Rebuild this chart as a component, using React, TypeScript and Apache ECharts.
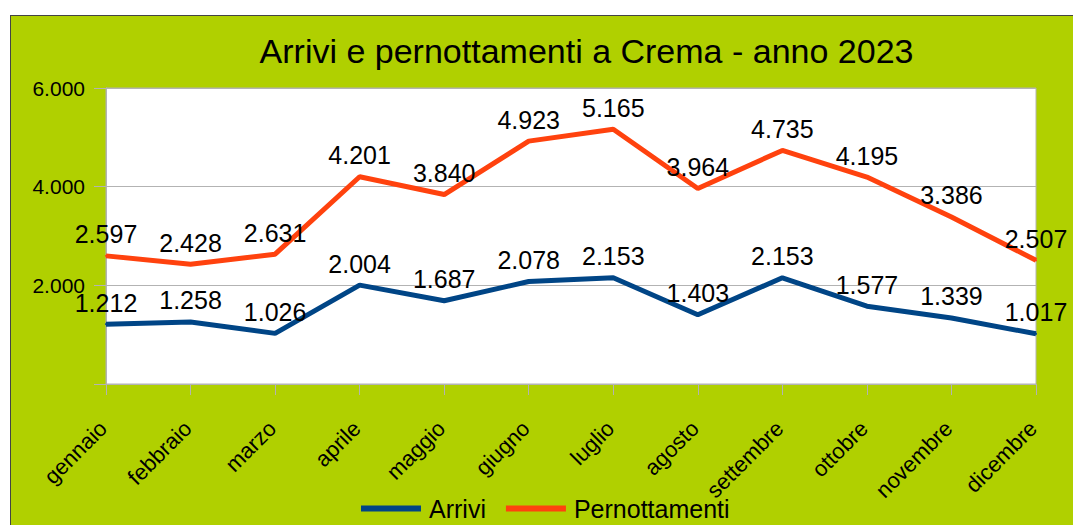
import React, { useEffect, useRef } from "react";
import * as echarts from "echarts";

const months = [
  "gennaio", "febbraio", "marzo", "aprile", "maggio", "giugno",
  "luglio", "agosto", "settembre", "ottobre", "novembre", "dicembre",
];
const arrivi = [1212, 1258, 1026, 2004, 1687, 2078, 2153, 1403, 2153, 1577, 1339, 1017];
const pernottamenti = [2597, 2428, 2631, 4201, 3840, 4923, 5165, 3964, 4735, 4195, 3386, 2507];
const yTicks = [0, 2000, 4000, 6000];

const FONT = "'Liberation Sans', Arial, sans-serif";
const GRAY = "#b3b3b3";

function fmt(v: number): string {
  return String(v).replace(/\B(?=(\d{3})+(?!\d))/g, ".");
}

export default function App() {
  const ref = useRef<HTMLDivElement>(null);
  useEffect(() => {
    document.body.style.margin = "0";
    if (!ref.current) return;
    const chart = echarts.init(ref.current, null, { renderer: "svg" });
    const series = [
      { name: "Arrivi", data: arrivi, color: "#004586" },
      { name: "Pernottamenti", data: pernottamenti, color: "#ff420e" },
    ].map((s) => ({
      name: s.name,
      type: "line",
      data: s.data,
      symbol: "circle",
      symbolSize: 2,
      showSymbol: true,
      itemStyle: { color: s.color },
      lineStyle: { color: s.color, width: 5 },
      label: {
        show: true,
        position: "top",
        distance: 8,
        fontFamily: FONT,
        fontSize: 25,
        color: "#000",
        formatter: (p: any) => fmt(p.value),
      },
    }));
    chart.setOption({
      animation: false,
      backgroundColor: "transparent",
      textStyle: { fontFamily: FONT },
      graphic: [
        {
          type: "text",
          x: 586.5,
          y: 51,
          style: {
            text: "Arrivi e pernottamenti a Crema - anno 2023",
            fontFamily: FONT,
            fontSize: 34,
            fill: "#000",
            textAlign: "center",
            textVerticalAlign: "middle",
          },
        },
      ],
      legend: {
        left: 356,
        top: 491,
        itemWidth: 60,
        itemHeight: 6,
        itemGap: 20,
        icon: "rect",
        textStyle: { fontFamily: FONT, fontSize: 25, color: "#000", padding: [0, 0, 0, 3] },
        data: ["Arrivi", "Pernottamenti"],
      },
      grid: {
        left: 106,
        top: 88,
        right: 37,
        bottom: 141,
        show: true,
        backgroundColor: "#ffffff",
        borderColor: GRAY,
        borderWidth: 1,
      },
      xAxis: {
        type: "category",
        data: months,
        boundaryGap: false,
        axisLine: { show: true, lineStyle: { color: GRAY, width: 1 } },
        axisTick: { show: true, length: 11, lineStyle: { color: GRAY } },
        axisLabel: {
          rotate: 45,
          margin: 38,
          padding: [0, 4, 0, 0],
          fontFamily: FONT,
          fontSize: 22,
          color: "#000",
          interval: 0,
        },
        splitLine: { show: false },
      },
      yAxis: {
        type: "value",
        min: yTicks[0],
        max: yTicks[yTicks.length - 1],
        interval: yTicks[1] - yTicks[0],
        axisLine: { show: true, lineStyle: { color: GRAY, width: 1 } },
        axisTick: { show: true, length: 12, lineStyle: { color: GRAY } },
        axisLabel: {
          margin: 21,
          fontFamily: FONT,
          fontSize: 21,
          color: "#000",
          formatter: (v: number) => (v === 0 ? "" : fmt(v)),
        },
        splitLine: { show: true, lineStyle: { color: GRAY, width: 1 } },
      },
      series,
    });
    return () => chart.dispose();
  }, []);
  return (
    <div style={{ position: "relative", width: 1073, height: 525, background: "#ffffff", overflow: "hidden" }}>
      <div
        style={{
          position: "absolute",
          left: 10,
          top: 15,
          width: 1080,
          height: 530,
          background: "#b0d000",
          borderTop: "1px solid #444",
          borderLeft: "1px solid #444",
        }}
      />
      <div ref={ref} style={{ position: "absolute", left: 0, top: 0, width: 1073, height: 525 }} />
    </div>
  );
}
